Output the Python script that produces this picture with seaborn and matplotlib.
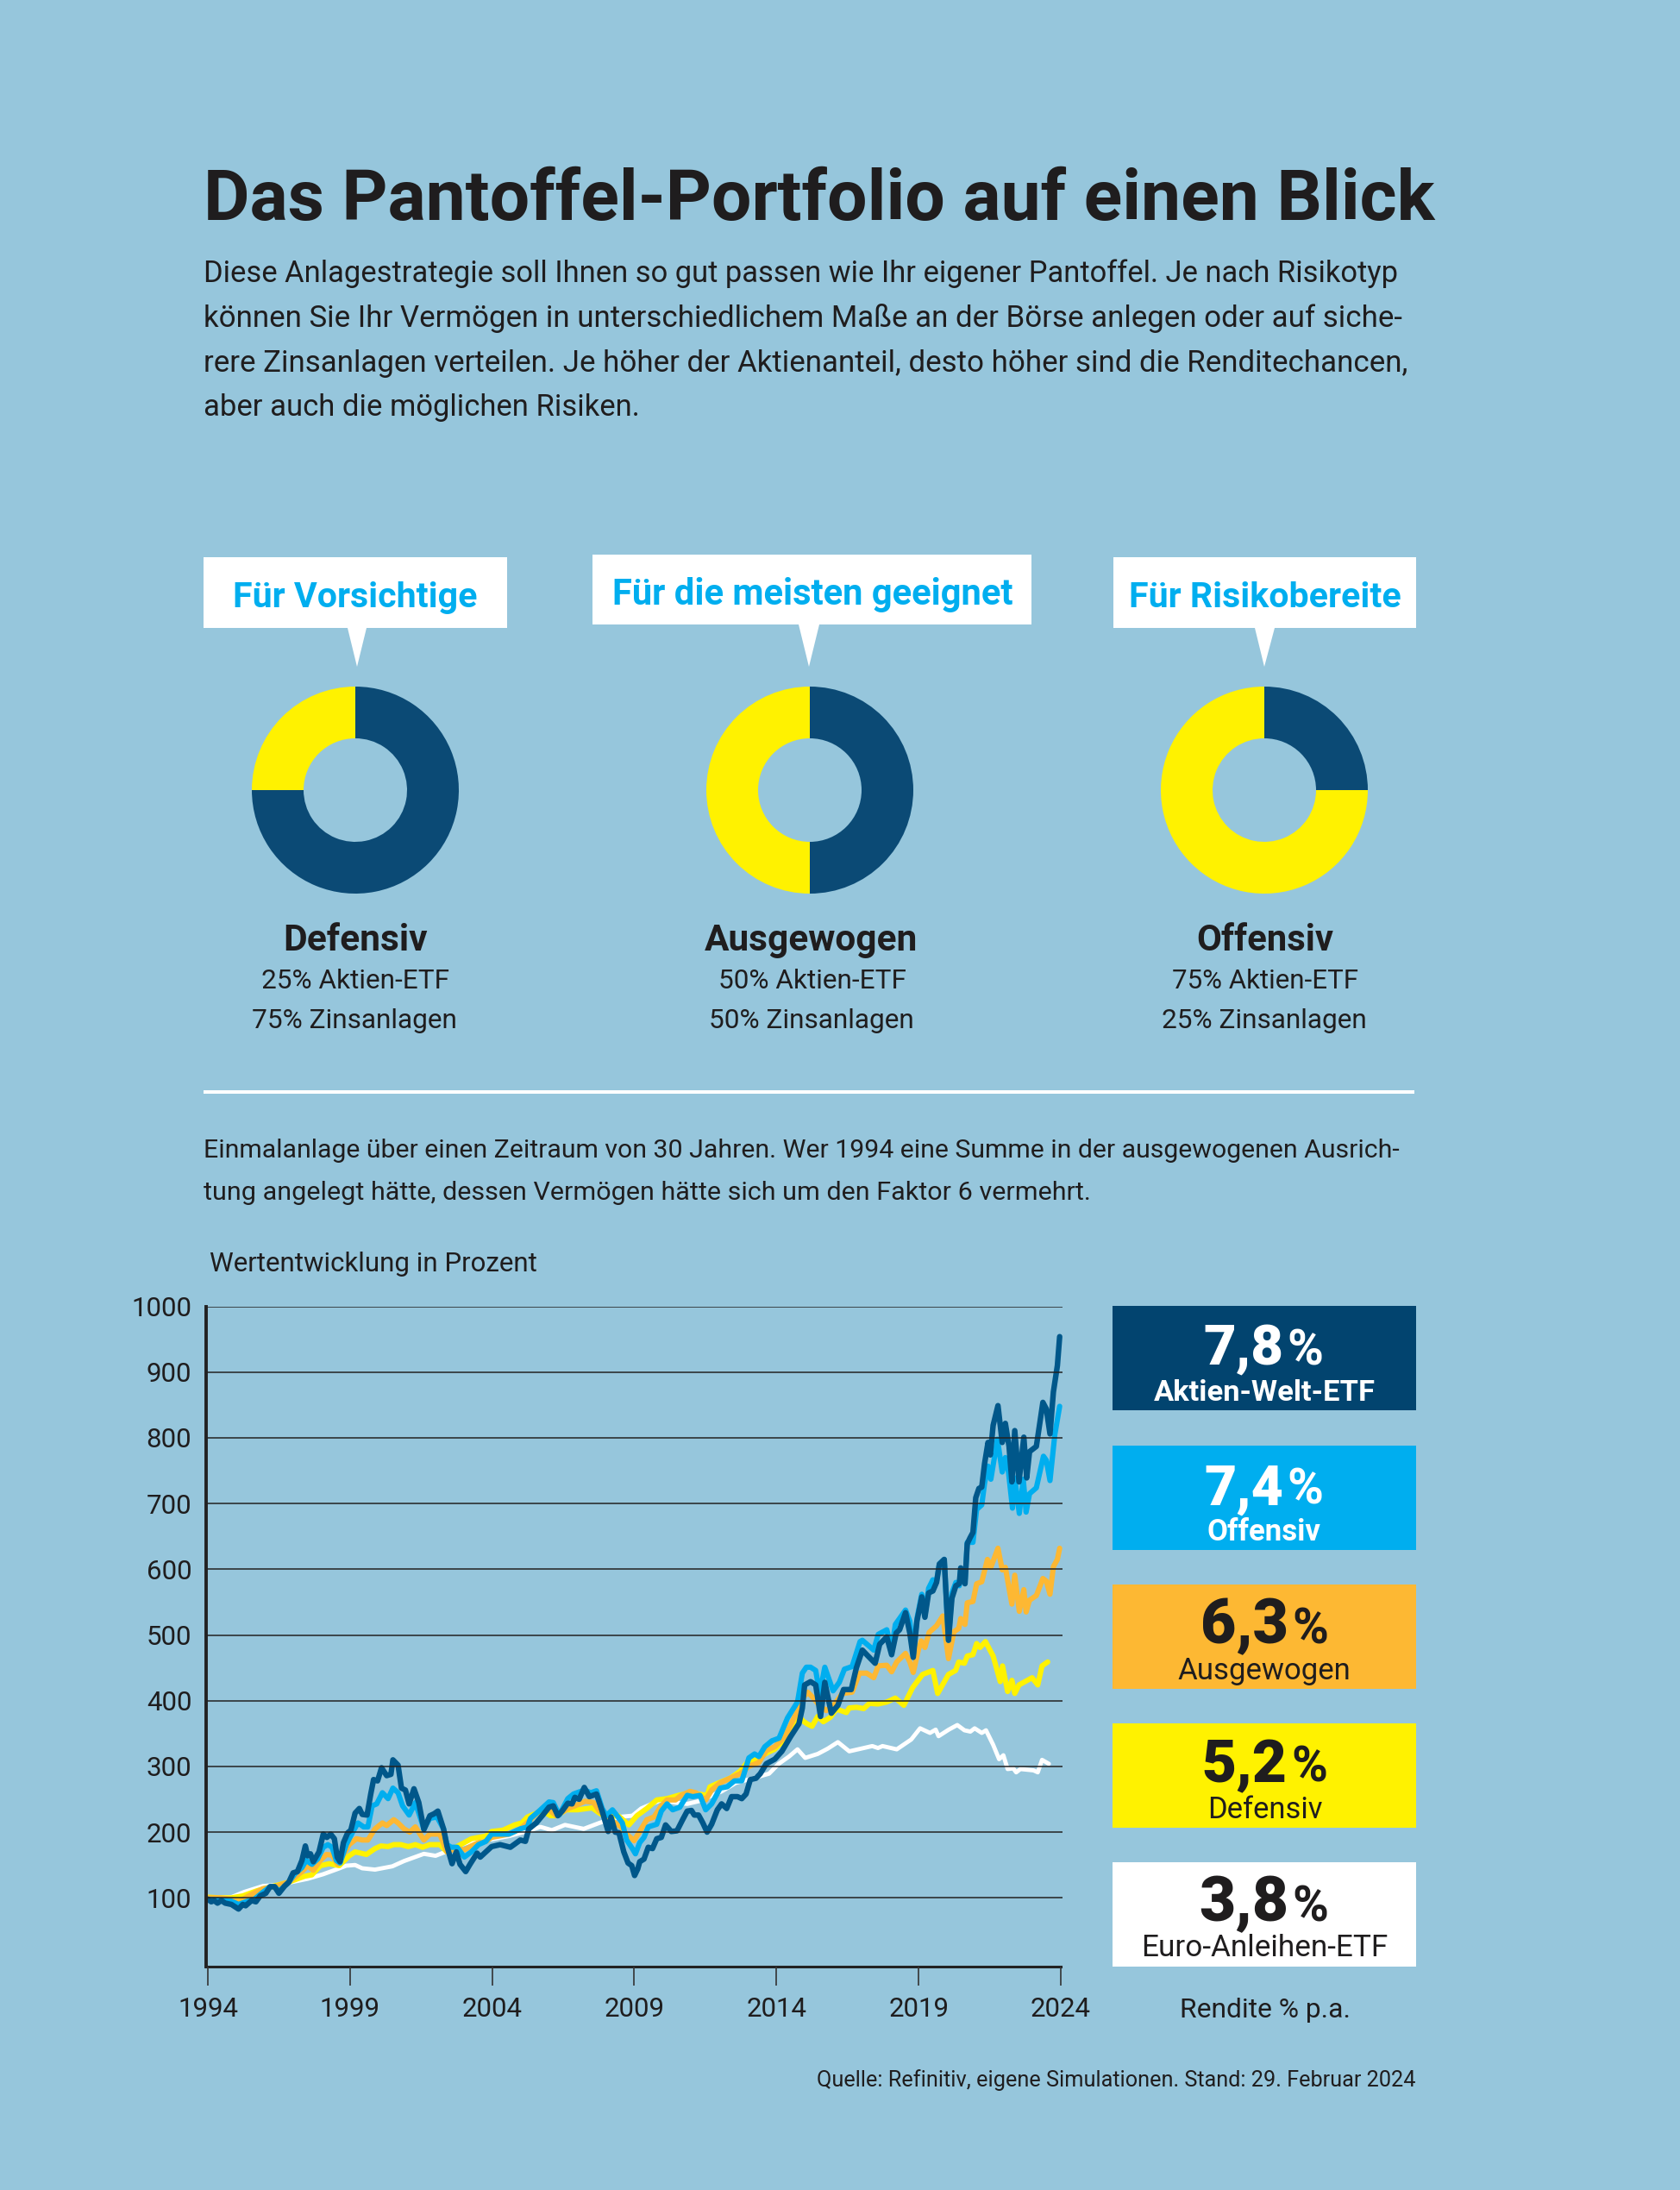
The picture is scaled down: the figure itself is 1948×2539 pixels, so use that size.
# Das Pantoffel-Portfolio auf einen Blick - infographic rebuilt with seaborn
import pandas as pd
import matplotlib
matplotlib.use("Agg")
import matplotlib.pyplot as plt
import seaborn as sns
from matplotlib.patches import Rectangle, Polygon

# ---------------------------
# Data
# ---------------------------
welt_jahre = [1994.00, 1994.12, 1994.22, 1994.34, 1994.48, 1994.61, 1994.83, 1995.08, 1995.23, 1995.33, 1995.54, 1995.69,
              1995.84, 1996.04, 1996.19, 1996.35, 1996.50, 1996.70, 1996.85, 1997.00, 1997.15, 1997.31, 1997.43, 1997.51,
              1997.61, 1997.71, 1997.91, 1998.06, 1998.19, 1998.32, 1998.45, 1998.55, 1998.65, 1998.77, 1998.92, 1999.03,
              1999.18, 1999.33, 1999.43, 1999.60, 1999.73, 1999.83, 1999.97, 2000.11, 2000.29, 2000.44, 2000.51, 2000.69,
              2000.81, 2000.95, 2001.08, 2001.25, 2001.42, 2001.60, 2001.81, 2001.96, 2002.09, 2002.29, 2002.41, 2002.59,
              2002.74, 2002.87, 2003.07, 2003.22, 2003.47, 2003.58, 2003.78, 2003.98, 2004.28, 2004.64, 2004.99, 2005.17,
              2005.29, 2005.55, 2005.80, 2006.00, 2006.15, 2006.31, 2006.46, 2006.66, 2006.81, 2006.91, 2007.06, 2007.24,
              2007.42, 2007.67, 2007.87, 2008.08, 2008.18, 2008.33, 2008.46, 2008.63, 2008.78, 2008.91, 2009.01, 2009.12,
              2009.19, 2009.34, 2009.49, 2009.64, 2009.79, 2009.95, 2010.10, 2010.30, 2010.50, 2010.70, 2010.86, 2011.01,
              2011.11, 2011.26, 2011.41, 2011.56, 2011.72, 2011.92, 2012.07, 2012.25, 2012.42, 2012.63, 2012.78, 2012.93,
              2013.08, 2013.28, 2013.43, 2013.64, 2013.94, 2014.19, 2014.49, 2014.79, 2014.91, 2014.99, 2015.20, 2015.38,
              2015.55, 2015.70, 2015.93, 2016.16, 2016.36, 2016.63, 2016.81, 2017.02, 2017.22, 2017.47, 2017.63, 2017.88,
              2018.05, 2018.21, 2018.33, 2018.54, 2018.69, 2018.81, 2018.94, 2019.11, 2019.22, 2019.35, 2019.50, 2019.63,
              2019.73, 2019.90, 2020.05, 2020.17, 2020.31, 2020.43, 2020.48, 2020.63, 2020.71, 2020.81, 2020.91, 2021.01,
              2021.12, 2021.22, 2021.32, 2021.44, 2021.52, 2021.62, 2021.79, 2021.94, 2022.05, 2022.18, 2022.28, 2022.38,
              2022.53, 2022.70, 2022.80, 2022.90, 2023.14, 2023.37, 2023.49, 2023.62, 2023.74, 2023.88, 2023.96]
welt_werte = [98, 94, 96, 92, 96, 92, 90, 83, 90, 88, 96, 94,
              103, 107, 117, 117, 107, 118, 124, 138, 140, 157, 179, 164,
              167, 155, 170, 197, 192, 197, 190, 162, 155, 184, 199, 203,
              229, 236, 227, 226, 258, 280, 278, 298, 286, 288, 310, 302,
              267, 264, 243, 266, 245, 204, 225, 228, 232, 205, 179, 152,
              170, 151, 140, 151, 168, 162, 170, 178, 181, 177, 188, 186,
              205, 214, 227, 238, 240, 225, 232, 244, 243, 253, 250, 268,
              254, 258, 232, 201, 223, 200, 199, 170, 153, 149, 134, 144,
              155, 159, 177, 175, 190, 192, 211, 201, 202, 219, 232, 233,
              226, 226, 214, 200, 212, 234, 243, 236, 254, 254, 251, 258,
              280, 282, 289, 304, 311, 323, 345, 365, 389, 424, 429, 424,
              376, 428, 381, 393, 417, 417, 450, 477, 468, 457, 486, 497,
              470, 503, 508, 534, 503, 466, 521, 558, 527, 564, 567, 580,
              608, 615, 492, 556, 575, 578, 602, 578, 639, 648, 656, 709,
              723, 725, 761, 793, 774, 819, 849, 793, 822, 787, 733, 811,
              733, 801, 739, 779, 787, 854, 844, 806, 870, 910, 954]

offensiv_jahre = [1994.00, 1994.42, 1994.83, 1995.08, 1995.33, 1995.64, 1995.89, 1996.19, 1996.35, 1996.50, 1996.85, 1997.05,
                  1997.31, 1997.46, 1997.66, 1997.86, 1998.06, 1998.22, 1998.37, 1998.52, 1998.65, 1998.87, 1999.08, 1999.28,
                  1999.48, 1999.63, 1999.78, 1999.94, 2000.14, 2000.34, 2000.51, 2000.69, 2000.85, 2001.08, 2001.30, 2001.60,
                  2001.81, 2002.06, 2002.29, 2002.41, 2002.56, 2002.77, 2003.02, 2003.27, 2003.52, 2003.78, 2003.98, 2004.59,
                  2004.99, 2005.24, 2005.35, 2005.65, 2006.00, 2006.15, 2006.36, 2006.66, 2006.86, 2007.24, 2007.47, 2007.67,
                  2007.87, 2008.02, 2008.23, 2008.43, 2008.58, 2008.73, 2008.93, 2009.04, 2009.19, 2009.34, 2009.49, 2009.79,
                  2009.95, 2010.15, 2010.35, 2010.60, 2010.86, 2011.06, 2011.31, 2011.51, 2011.72, 2012.02, 2012.27, 2012.52,
                  2012.78, 2013.03, 2013.23, 2013.38, 2013.59, 2013.84, 2014.09, 2014.39, 2014.74, 2014.91, 2015.05, 2015.20,
                  2015.38, 2015.52, 2015.70, 2015.99, 2016.21, 2016.39, 2016.66, 2016.94, 2017.02, 2017.42, 2017.58, 2017.88,
                  2018.05, 2018.18, 2018.54, 2018.69, 2018.81, 2018.94, 2019.11, 2019.22, 2019.35, 2019.50, 2019.63, 2019.73,
                  2019.90, 2020.05, 2020.17, 2020.31, 2020.43, 2020.48, 2020.63, 2020.71, 2020.91, 2021.04, 2021.22, 2021.32,
                  2021.44, 2021.54, 2021.77, 2021.94, 2022.05, 2022.16, 2022.30, 2022.38, 2022.54, 2022.68, 2022.78, 2022.90,
                  2023.14, 2023.39, 2023.49, 2023.62, 2023.79, 2023.96]
offensiv_werte = [98, 97, 95, 90, 94, 98, 107, 117, 117, 110, 124, 136,
                  146, 157, 151, 159, 177, 181, 177, 157, 153, 181, 199, 214,
                  208, 208, 240, 243, 260, 251, 267, 260, 240, 226, 245, 205,
                  221, 223, 205, 181, 177, 177, 162, 170, 181, 186, 197, 197,
                  205, 208, 221, 232, 246, 245, 226, 251, 258, 264, 260, 263,
                  236, 225, 234, 223, 214, 188, 175, 167, 184, 192, 208, 212,
                  232, 243, 234, 238, 256, 254, 256, 234, 243, 267, 269, 278,
                  278, 313, 319, 315, 330, 339, 343, 374, 398, 442, 451, 451,
                  446, 411, 451, 415, 428, 448, 452, 490, 492, 477, 501, 508,
                  477, 516, 538, 521, 468, 525, 562, 529, 571, 584, 582, 608,
                  615, 492, 564, 580, 575, 602, 580, 641, 641, 691, 698, 731,
                  757, 737, 798, 748, 770, 748, 693, 739, 685, 737, 687, 715,
                  724, 772, 766, 735, 805, 848]

ausgewogen_jahre = [1994.00, 1994.42, 1994.83, 1995.08, 1995.44, 1995.94, 1996.35, 1996.85, 1997.05, 1997.31, 1997.51, 1997.71,
                    1997.96, 1998.17, 1998.37, 1998.57, 1998.77, 1998.97, 1999.23, 1999.43, 1999.63, 1999.88, 2000.14, 2000.29,
                    2000.54, 2000.69, 2000.90, 2001.10, 2001.30, 2001.60, 2001.81, 2002.16, 2002.41, 2002.72, 2003.02, 2003.27,
                    2003.52, 2003.78, 2003.98, 2004.59, 2004.99, 2005.35, 2005.65, 2005.95, 2006.26, 2006.66, 2006.91, 2007.27,
                    2007.57, 2007.77, 2008.02, 2008.33, 2008.53, 2008.73, 2008.99, 2009.19, 2009.44, 2009.69, 2009.95, 2010.15,
                    2010.45, 2010.65, 2010.96, 2011.16, 2011.51, 2011.72, 2012.02, 2012.37, 2012.73, 2013.03, 2013.38, 2013.64,
                    2013.94, 2014.29, 2014.44, 2014.74, 2014.89, 2015.10, 2015.30, 2015.50, 2015.75, 2016.01, 2016.31, 2016.66,
                    2016.92, 2017.17, 2017.42, 2017.58, 2017.88, 2018.05, 2018.23, 2018.54, 2018.69, 2018.81, 2018.99, 2019.09,
                    2019.22, 2019.37, 2019.63, 2019.85, 2020.05, 2020.24, 2020.41, 2020.48, 2020.63, 2020.71, 2020.91, 2021.04,
                    2021.22, 2021.42, 2021.54, 2021.79, 2021.94, 2022.05, 2022.15, 2022.28, 2022.38, 2022.54, 2022.70, 2022.78,
                    2022.90, 2023.14, 2023.37, 2023.49, 2023.62, 2023.74, 2023.88, 2023.96]
ausgewogen_werte = [100, 100, 98, 94, 103, 114, 117, 124, 131, 140, 149, 142,
                    157, 166, 165, 151, 166, 181, 190, 188, 188, 205, 214, 210,
                    219, 214, 205, 200, 208, 188, 197, 197, 170, 175, 173, 179,
                    184, 186, 192, 197, 205, 219, 232, 236, 225, 236, 240, 247,
                    245, 232, 223, 214, 208, 197, 187, 201, 219, 223, 240, 249,
                    249, 256, 262, 260, 249, 264, 275, 282, 289, 300, 306, 324,
                    330, 345, 358, 385, 402, 413, 404, 393, 385, 393, 411, 413,
                    442, 442, 435, 453, 454, 444, 459, 472, 459, 443, 477, 491,
                    481, 504, 514, 529, 464, 505, 510, 525, 516, 549, 551, 578,
                    581, 615, 603, 632, 599, 603, 578, 547, 591, 536, 569, 535,
                    553, 560, 586, 582, 562, 604, 615, 632]

defensiv_jahre = [1994.00, 1994.42, 1994.83, 1995.23, 1995.74, 1996.24, 1996.85, 1997.15, 1997.41, 1997.66, 1997.96, 1998.27,
                  1998.62, 1998.97, 1999.18, 1999.58, 1999.88, 2000.09, 2000.34, 2000.54, 2000.79, 2001.05, 2001.30, 2001.55,
                  2001.81, 2002.16, 2002.41, 2002.67, 2003.02, 2003.27, 2003.78, 2003.98, 2004.38, 2004.79, 2005.04, 2005.24,
                  2005.50, 2005.80, 2006.05, 2006.26, 2006.61, 2007.01, 2007.52, 2007.77, 2008.02, 2008.43, 2008.81, 2009.09,
                  2009.44, 2009.79, 2010.15, 2010.55, 2010.96, 2011.26, 2011.56, 2011.66, 2011.97, 2012.37, 2012.73, 2012.93,
                  2013.07, 2013.38, 2013.68, 2013.93, 2014.29, 2014.59, 2014.79, 2014.94, 2015.07, 2015.25, 2015.45, 2015.65,
                  2015.90, 2016.11, 2016.26, 2016.46, 2016.56, 2016.81, 2017.07, 2017.27, 2017.57, 2017.88, 2018.18, 2018.48,
                  2018.79, 2019.14, 2019.50, 2019.67, 2020.05, 2020.30, 2020.41, 2020.61, 2020.71, 2020.91, 2021.04, 2021.16,
                  2021.35, 2021.62, 2021.87, 2021.95, 2022.13, 2022.28, 2022.38, 2022.53, 2022.99, 2023.19, 2023.34, 2023.54]
defensiv_werte = [101, 100, 100, 103, 111, 117, 124, 129, 133, 135, 149, 152,
                  149, 164, 170, 166, 175, 179, 178, 181, 181, 178, 181, 177,
                  181, 181, 170, 176, 184, 190, 194, 201, 203, 211, 214, 223,
                  228, 232, 225, 225, 234, 234, 237, 229, 223, 225, 211, 225,
                  236, 249, 251, 256, 260, 258, 256, 269, 275, 282, 293, 304,
                  306, 313, 321, 326, 341, 358, 376, 369, 365, 361, 376, 368,
                  375, 387, 385, 382, 389, 390, 388, 396, 395, 398, 404, 393,
                  420, 440, 446, 411, 440, 446, 459, 457, 468, 470, 487, 481,
                  490, 468, 429, 453, 414, 431, 411, 424, 435, 424, 453, 459]

anleihen_jahre = [1994.00, 1994.83, 1995.28, 1995.94, 1996.55, 1996.95, 1997.51, 1998.06, 1998.57, 1998.87, 1999.18, 1999.43,
                  1999.88, 2000.49, 2000.90, 2001.60, 2002.01, 2002.36, 2002.92, 2003.42, 2003.98, 2004.59, 2005.19, 2005.70,
                  2006.10, 2006.56, 2007.22, 2007.77, 2008.43, 2008.93, 2009.24, 2009.95, 2010.45, 2010.86, 2011.26, 2012.07,
                  2012.57, 2013.18, 2013.74, 2014.08, 2014.44, 2014.74, 2015.01, 2015.45, 2015.80, 2016.16, 2016.56, 2017.07,
                  2017.37, 2017.57, 2017.73, 2018.23, 2018.74, 2019.05, 2019.40, 2019.60, 2019.70, 2020.06, 2020.36, 2020.61,
                  2020.82, 2020.97, 2021.22, 2021.37, 2021.62, 2021.83, 2021.98, 2022.13, 2022.33, 2022.43, 2022.58, 2023.04,
                  2023.19, 2023.34, 2023.58]
anleihen_werte = [100, 101, 109, 118, 120, 124, 129, 136, 144, 149, 150, 145,
                  143, 148, 156, 167, 164, 170, 181, 188, 189, 194, 201, 208,
                  203, 211, 205, 214, 223, 225, 236, 249, 245, 243, 247, 262,
                  275, 282, 289, 304, 315, 326, 313, 319, 327, 337, 323, 328,
                  331, 328, 331, 326, 341, 358, 351, 356, 346, 356, 363, 355,
                  353, 358, 351, 355, 333, 311, 317, 296, 297, 291, 296, 294,
                  291, 310, 304]

jahr_ticks = [1994, 1999, 2004, 2009, 2014, 2019, 2024]
wert_ticks = [100, 200, 300, 400, 500, 600, 700, 800, 900, 1000]

donut_aktien = [25, 50, 75]
donut_zinsen = [75, 50, 25]
donut_namen = ["Defensiv", "Ausgewogen", "Offensiv"]

rendite_werte = ["7,8", "7,4", "6,3", "5,2", "3,8"]
rendite_namen = ["Aktien-Welt-ETF", "Offensiv", "Ausgewogen", "Defensiv", "Euro-Anleihen-ETF"]

# ---------------------------
# Colours and canvas
# ---------------------------
HG = "#96C6DC"
DUNKEL = "#02446F"
DONUT_DUNKEL = "#0B4A75"
LINIE_DUNKEL = "#00578A"
BLAU = "#00AEEF"
ORANGE = "#FDB833"
GELB = "#FFF200"
WEISS = "#FFFFFF"
TEXT = "#1F1D1E"

W, H = 1949, 2539
sns.set_theme(style="white")
plt.rcParams["font.family"] = ["Roboto", "DejaVu Sans"]

fig = plt.figure(figsize=(W / 100, H / 100), dpi=100, facecolor=HG)
bg = fig.add_axes([0, 0, 1, 1], zorder=3)
bg.set_xlim(0, W)
bg.set_ylim(H, 0)
bg.axis("off")
bg.patch.set_alpha(0)
renderer = fig.canvas.get_renderer()


# put a text at pixel position and scale the font so it gets the measured width
def put(x, y, s, breite, color=TEXT, weight="normal", ha="left"):
    t = bg.text(x, y, s, color=color, fontweight=weight, ha=ha, va="baseline", fontsize=20)
    for _ in range(3):
        w = t.get_window_extent(renderer).width
        t.set_fontsize(t.get_fontsize() * breite / w)
    return t


# ---------------------------
# Header
# ---------------------------
put(236, 255, "Das Pantoffel-Portfolio auf einen Blick", 1426, weight="bold")
put(236, 327, "Diese Anlagestrategie soll Ihnen so gut passen wie Ihr eigener Pantoffel. Je nach Risikotyp", 1383)
put(236, 379, "können Sie Ihr Vermögen in unterschiedlichem Maße an der Börse anlegen oder auf siche-", 1390)
put(236, 431, "rere Zinsanlagen verteilen. Je höher der Aktienanteil, desto höher sind die Renditechancen,", 1395)
put(236, 482, "aber auch die möglichen Risiken.", 506)

# ---------------------------
# Speech bubbles
# ---------------------------
boxen = [(236, 588, 646, 728, 414, 403, 425), (687, 1196, 643, 724, 938, 926, 950), (1291, 1642, 646, 728, 1466, 1455, 1478)]
for x0, x1, y0, y1, spitze, b0, b1 in boxen:
    bg.add_patch(Rectangle((x0, y0), x1 - x0, y1 - y0, color=WEISS, lw=0))
    bg.add_patch(Polygon([(b0, y1), (b1, y1), (spitze, 773)], color=WEISS, lw=0))
put(270, 704, "Für Vorsichtige", 284, color=BLAU, weight="bold")
put(710, 701, "Für die meisten geeignet", 465, color=BLAU, weight="bold")
put(1309, 704, "Für Risikobereite", 316, color=BLAU, weight="bold")

# ---------------------------
# Donuts
# ---------------------------
mitten = [412, 939, 1466]
for cx, a, z in zip(mitten, donut_aktien, donut_zinsen):
    ax_d = fig.add_axes([(cx - 120) / W, 1 - (916 + 120) / H, 240 / W, 240 / H])
    ax_d.pie([z, a], colors=[DONUT_DUNKEL, GELB], startangle=90, counterclock=False, radius=1,
             wedgeprops={"width": 0.5, "linewidth": 0})
    ax_d.set_xlim(-1, 1)
    ax_d.set_ylim(-1, 1)

put(412, 1102, donut_namen[0], 167, weight="bold", ha="center")
put(941, 1102, donut_namen[1], 247, weight="bold", ha="center")
put(1467, 1102, donut_namen[2], 159, weight="bold", ha="center")
put(412, 1146, "25% Aktien-ETF", 217, ha="center")
put(411, 1192, "75% Zinsanlagen", 238, ha="center")
put(942, 1146, "50% Aktien-ETF", 217, ha="center")
put(941, 1192, "50% Zinsanlagen", 238, ha="center")
put(1467, 1146, "75% Aktien-ETF", 216, ha="center")
put(1466, 1192, "25% Zinsanlagen", 238, ha="center")

bg.add_patch(Rectangle((236, 1263.5), 1404, 4, color=WEISS, lw=0))

put(236, 1342, "Einmalanlage über einen Zeitraum von 30 Jahren. Wer 1994 eine Summe in der ausgewogenen Ausrich-", 1388)
put(236, 1391, "tung angelegt hätte, dessen Vermögen hätte sich um den Faktor 6 vermehrt.", 1025)
put(243, 1474, "Wertentwicklung in Prozent", 379)

# ---------------------------
# Line chart
# ---------------------------
ax = fig.add_axes([239 / W, 1 - 2280 / H, (1232 - 239) / W, (2280 - 1514.6) / H], facecolor="none")

serien = [
    ("Euro-Anleihen-ETF", anleihen_jahre, anleihen_werte, WEISS, 3.5),
    ("Defensiv", defensiv_jahre, defensiv_werte, GELB, 4.4),
    ("Ausgewogen", ausgewogen_jahre, ausgewogen_werte, ORANGE, 4.4),
    ("Offensiv", offensiv_jahre, offensiv_werte, BLAU, 4.4),
    ("Aktien-Welt-ETF", welt_jahre, welt_werte, LINIE_DUNKEL, 4.6),
]
for name, jahre, werte, farbe, lw in serien:
    df = pd.DataFrame({"jahr": jahre, "wert": werte})
    sns.lineplot(data=df, x="jahr", y="wert", color=farbe, linewidth=lw, estimator=None, ax=ax,
                 solid_joinstyle="round", solid_capstyle="round", label=name, legend=False)

ax.set_xlim(1993.94, 2024.06)
ax.set_ylim(-4.6, 1000)
ax.set_xlabel("")
ax.set_ylabel("")
ax.set_xticks(jahr_ticks)
ax.set_yticks(wert_ticks)
ax.tick_params(axis="x", bottom=True, length=16, width=1.2, color="#333333", pad=9, labelsize=22.5, labelcolor=TEXT)
ax.tick_params(axis="y", left=False, length=0, pad=12, labelsize=22.5, labelcolor=TEXT)
ax.set_axisbelow(False)
ax.grid(axis="y", color="#222222", linewidth=1.1)
ax.grid(axis="x", visible=False)
sns.despine(ax=ax, top=True, right=True)
ax.spines["left"].set_linewidth(2.8)
ax.spines["left"].set_color("#222222")
ax.spines["bottom"].set_linewidth(2.2)
ax.spines["bottom"].set_color("#222222")
ax.spines["bottom"].set_bounds(1993.94, 2024)

# ---------------------------
# Return boxes
# ---------------------------
box_oben = [1514, 1675.5, 1836.5, 1997.5, 2158.5]
box_farbe = [DUNKEL, BLAU, ORANGE, GELB, WEISS]
schrift = [WEISS, WEISS, TEXT, TEXT, TEXT]
zahl_links = [1395, 1396, 1392, 1393, 1390]
zahl_breite = [93, 92, 102, 99, 104]
pro_links = [1492, 1492, 1498, 1497, 1498]
name_gew = ["bold", "bold", "normal", "normal", "normal"]
name_breite = [257, 132, 200, 133, 286]
name_mitte = [1466, 1466, 1466, 1467, 1466]

for i in range(5):
    y0 = box_oben[i]
    bg.add_patch(Rectangle((1290.5, y0), 351.5, 121, color=box_farbe[i], lw=0))
    put(zahl_links[i], y0 + 68.5, rendite_werte[i], zahl_breite[i], color=schrift[i], weight="black")
    put(pro_links[i], y0 + 68.5, "%", 42, color=schrift[i], weight="bold")
    put(name_mitte[i], y0 + 110, rendite_namen[i], name_breite[i], color=schrift[i], weight=name_gew[i], ha="center")

put(1368, 2339, "Rendite % p.a.", 197)
put(947, 2419, "Quelle: Refinitiv, eigene Simulationen. Stand: 29. Februar 2024", 694)

fig.savefig("out.png", dpi=100, facecolor=HG)
